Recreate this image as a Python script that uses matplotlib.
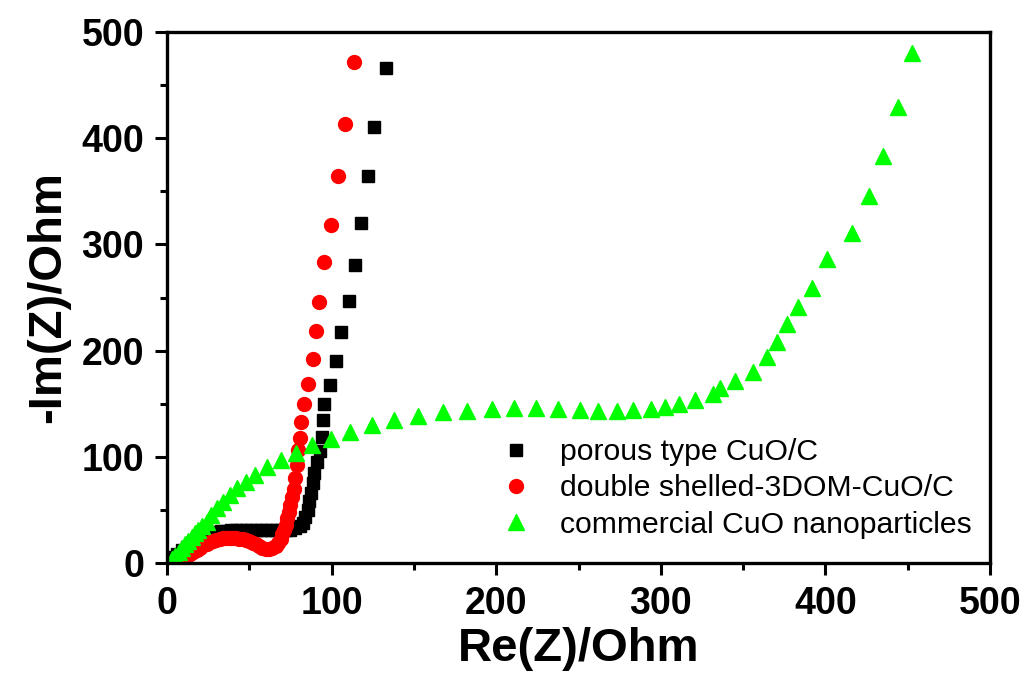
import matplotlib
matplotlib.use("Agg")
import matplotlib.pyplot as plt

plt.rcParams['font.family'] = ['Liberation Sans', 'DejaVu Sans']

porous_x = [132.9, 126.0, 121.9, 117.7, 114.0, 110.8, 105.7, 102.7, 99.0, 95.5, 94.5, 94.3, 93.0, 91.0,
            89.5, 88.5, 87.5, 86.5, 85.5, 84.0, 82.5, 80.5, 78.0, 75.0, 72.0, 69.0, 66.0, 63.0, 60.0,
            57.0, 54.0, 51.0, 48.0, 45.0, 42.0, 39.0, 36.0, 33.0, 30.0, 27.0, 24.0, 21.0, 18.0, 15.0,
            12.0, 9.0, 6.0, 4.0, 2.0]
porous_y = [466.0, 411.0, 364.0, 320.0, 281.0, 247.0, 217.5, 190.0, 168.0, 150.0, 135.0, 119.0, 105.0, 95.0,
            85.0, 75.0, 66.0, 58.0, 50.0, 43.0, 38.0, 34.5, 32.5, 31.5, 31.0, 31.0, 31.0, 31.0, 31.0,
            31.0, 31.0, 31.0, 31.0, 31.0, 31.0, 31.0, 30.5, 30.0, 29.5, 28.5, 27.0, 25.0, 22.0, 19.0,
            15.5, 12.0, 8.5, 5.5, 2.5]

dshell_x = [113.6, 108.3, 103.7, 99.6, 95.2, 92.3, 90.5, 88.5, 85.5, 83.0, 81.5, 80.5, 79.8, 79.2,
            78.0, 77.0, 76.0, 75.0, 74.0, 73.0, 72.0, 71.0, 70.0, 69.0, 67.5, 66.0, 64.0, 62.0, 60.0,
            58.0, 56.0, 54.0, 52.0, 50.0, 48.0, 46.0, 44.0, 42.0, 40.0, 38.0, 36.0, 34.0, 32.0, 30.0,
            28.0, 26.0, 24.0, 22.0, 20.0, 18.0, 16.0, 14.0, 12.0, 10.0, 8.0, 6.0]
dshell_y = [472.0, 413.0, 364.0, 318.5, 283.0, 246.0, 218.0, 192.0, 169.0, 150.0, 133.0, 118.0, 106.0, 92.0,
            80.0, 70.0, 62.0, 55.0, 48.0, 42.0, 36.0, 31.0, 27.0, 23.0, 19.0, 16.0, 14.0, 13.0, 13.5,
            14.5, 16.0, 17.5, 19.0, 20.5, 21.5, 22.5, 23.0, 23.5, 24.0, 24.0, 24.0, 23.5, 23.0, 22.0,
            21.0, 19.5, 18.0, 16.5, 14.5, 12.5, 10.5, 8.5, 7.0, 5.5, 4.0, 3.0]

comm_x = [5.0, 3.0, 5.0, 7.0, 9.0, 11.0, 13.0, 15.0, 17.0, 19.0, 21.0, 24.0, 27.0, 30.6, 34.2, 38.3,
          42.7, 48.0, 53.5, 61.0, 69.0, 78.4, 88.0, 99.5, 111.0, 124.4, 137.9, 152.7, 167.5, 182.5,
          197.3, 210.8, 223.9, 237.7, 250.9, 262.0, 273.6, 283.3, 293.8, 302.5, 311.2, 320.8, 331.5,
          336.0, 345.0, 356.0, 364.3, 370.4, 376.5, 383.5, 392.0, 401.2, 416.0, 426.3, 435.2, 443.9, 452.8]
comm_y = [2.0, 4.0, 7.0, 10.5, 14.0, 17.5, 21.0, 24.5, 28.0, 31.5, 35.0, 39.0, 45.0, 51.5, 57.7, 64.0,
          70.3, 76.6, 83.0, 90.0, 97.0, 104.0, 111.0, 117.0, 123.6, 130.0, 134.6, 138.7, 142.0, 143.4,
          145.0, 146.0, 145.5, 145.0, 144.0, 143.4, 143.4, 144.5, 145.0, 147.0, 150.0, 153.5, 159.0,
          164.5, 171.0, 180.0, 194.0, 208.0, 225.0, 241.0, 259.0, 286.0, 311.0, 346.0, 383.5, 429.0, 480.0]

labels = ['porous type CuO/C', 'double shelled-3DOM-CuO/C', 'commercial CuO nanoparticles']
x_ticks = [0, 100, 200, 300, 400, 500]
y_ticks = [0, 100, 200, 300, 400, 500]

fig = plt.figure(figsize=(10.26, 6.88), dpi=100)
ax = fig.add_axes([167/1026, 1-563/688, (990-167)/1026, (563-32)/688])

ax.plot(porous_x, porous_y, ls='none', marker='s', ms=8.6, color='black', mec='black', label=labels[0])
ax.plot(dshell_x, dshell_y, ls='none', marker='o', ms=10, color='#ff0000', mec='#ff0000', label=labels[1])
ax.plot(comm_x, comm_y, ls='none', marker='^', ms=11.5, color='#00ff00', mec='#00ff00', label=labels[2])

ax.set_xlim(0, 500)
ax.set_ylim(0, 500)
ax.set_xticks(x_ticks)
ax.set_yticks(y_ticks)
ax.set_xticks([50, 150, 250, 350, 450], minor=True)
ax.set_yticks([50, 150, 250, 350, 450], minor=True)
ax.tick_params(which='major', direction='out', length=8.5, width=2.2, labelsize=27, pad=8,
               top=False, right=False)
ax.tick_params(which='minor', direction='out', length=5, width=2.2, top=False, right=False)
for lab in ax.get_xticklabels() + ax.get_yticklabels():
    lab.set_fontweight('bold')
for sp in ax.spines.values():
    sp.set_linewidth(2.4)

ax.set_xlabel('Re(Z)/Ohm', fontsize=34, fontweight='bold', labelpad=4)
ax.set_ylabel('-Im(Z)/Ohm', fontsize=34, fontweight='bold', labelpad=8)

ax.legend(loc='lower right', bbox_to_anchor=(1.0, 0.012), frameon=False, fontsize=21.7,
          handletextpad=0.45, labelspacing=0.27, borderaxespad=0.2)

fig.savefig('out.png', dpi=100)
